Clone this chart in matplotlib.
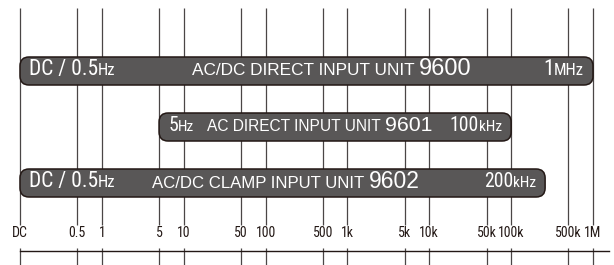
import matplotlib
matplotlib.use("Agg")
import matplotlib.pyplot as plt
from matplotlib.patches import FancyBboxPatch
from matplotlib.offsetbox import TextArea, HPacker, AnnotationBbox

# ==== データ ====
# DC は対数軸上で 0.1 として扱う
tick_freqs = [0.1, 0.5, 1, 5, 10, 50, 100, 500, 1e3, 5e3, 1e4, 5e4, 1e5, 5e5, 1e6]
tick_labels = ["DC", "0.5", "1", "5", "10", "50", "100", "500",
               "1k", "5k", "10k", "50k", "100k", "500k", "1M"]

unit_numbers = ["9600", "9601", "9602"]
unit_names = ["AC/DC DIRECT INPUT UNIT", "AC DIRECT INPUT UNIT", "AC/DC CLAMP INPUT UNIT"]
band_low = [0.1, 5, 0.1]
band_high = [1e6, 1e5, 2.6e5]
low_value = ["DC / 0.5", "5", "DC / 0.5"]
low_unit = ["Hz", "Hz", "Hz"]
high_value = ["1", "100", "200"]
high_unit = ["MHz", "kHz", "kHz"]

# ==== レイアウト ====
W, H = 614, 265
PPD = (593 - 20) / 7.0          # 1デケードあたりのピクセル
ROW0, ROWSTEP = 71, 56          # 行の中心(px)
name_center = [650, 455, 177]   # 中央ラベルの中心(Hz)
name_scale = [1.0, 0.9, 0.97]
low_scale = [1.0, 0.92, 1.0]
high_scale = [1.0, 0.92, 0.92]

NARROW = ["Roboto Condensed", "Archivo Narrow", "Liberation Sans", "DejaVu Sans"]
REGULAR = ["Liberation Sans", "DejaVu Sans"]
BAR_FACE = "#595757"
INK = "#231815"
LINE = "#4a4646"

fig = plt.figure(figsize=(W / 100, H / 100), dpi=100)
ax = fig.add_axes([0, 0, 1, 1])
ax.set_xscale("log")
ax.set_xlim(10 ** (-1 - 20 / PPD), 10 ** (6 + (W - 593) / PPD))
ax.set_ylim((H - ROW0) / ROWSTEP, -ROW0 / ROWSTEP)
ax.axis("off")

def frac(px):
    return 1 - px / H

xt = ax.get_xaxis_transform()

# 縦線（目盛ラベルの所で切れる）
ax.vlines(tick_freqs, frac(225), frac(8), transform=xt, color=LINE, lw=0.9, zorder=1)
ax.vlines(tick_freqs, 0, frac(248), transform=xt, color=LINE, lw=0.9, zorder=1)
ax.plot([tick_freqs[0], 10 ** (-1 + 589 / PPD)], [frac(250.5)] * 2,
        transform=xt, color=INK, lw=1.0, zorder=1)
for f, lab in zip(tick_freqs, tick_labels):
    ax.text(f, frac(233), lab, transform=xt, ha="center", va="center",
            fontsize=10, family=NARROW, color=INK)

def add_label(x, row, parts, align, dx):
    boxes = [TextArea(s, textprops=dict(color="white", fontsize=fs, family=fam))
             for s, fs, fam in parts]
    pack = HPacker(children=boxes, align="baseline", pad=0, sep=0)
    ab = AnnotationBbox(pack, (x, row), xybox=(dx, 1.2), xycoords="data",
                        boxcoords="offset points", box_alignment=(align, 0.5),
                        frameon=False, pad=0, zorder=3)
    ax.add_artist(ab)

to_axes = ax.transAxes.inverted()
for i in range(len(unit_numbers)):
    (xa0, ya0) = to_axes.transform(ax.transData.transform((band_low[i], i - 0.25)))
    (xa1, ya1) = to_axes.transform(ax.transData.transform((band_high[i], i + 0.25)))
    bar = FancyBboxPatch((xa0, min(ya0, ya1)), xa1 - xa0, abs(ya1 - ya0),
                         boxstyle="round,pad=0,rounding_size=%f" % (9 / W),
                         mutation_aspect=W / H, transform=ax.transAxes,
                         facecolor=BAR_FACE, edgecolor=INK, lw=1.1, zorder=2)
    ax.add_patch(bar)

    a, b = low_scale[i], high_scale[i]
    add_label(band_low[i], i, [(low_value[i], 15.5 * a, NARROW),
                               (low_unit[i], 12 * a, NARROW)], 0, 6.5)
    add_label(band_high[i], i, [(high_value[i], 15.5 * b, NARROW),
                                (high_unit[i], 12 * b, NARROW)], 1, -6.5)
    k = name_scale[i]
    add_label(name_center[i], i, [(unit_names[i] + " ", 12.4 * k, REGULAR),
                                  (unit_numbers[i], 17 * k, REGULAR)], 0.5, 0)

fig.savefig("out.png", dpi=100)
